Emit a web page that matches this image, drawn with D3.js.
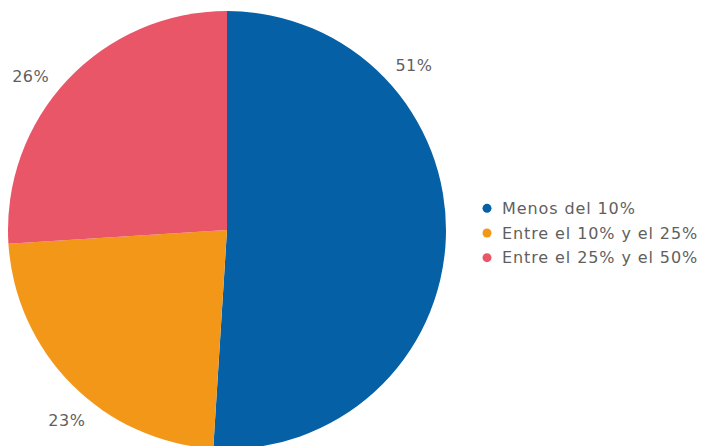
<!DOCTYPE html>
<meta charset="utf-8">
<style>
  body { margin: 0; background: #fff; }
  .label, .legend text {
    font-family: "DejaVu Sans", sans-serif;
    font-size: 16px;
    fill: #5f5f5f;
  }
  .legend text { letter-spacing: 0.9px; }
  .label { letter-spacing: 0.5px; }
</style>
<body>
<div id="chart"></div>
<script src="https://d3js.org/d3.v7.min.js"></script>
<script>

  // chart values
  var categories = ["Menos del 10%", "Entre el 10% y el 25%", "Entre el 25% y el 50%"];
  var values = [51, 23, 26];
  var labels = ["51%", "23%", "26%"];
  var colors = ["#0560A6", "#F39719", "#E85668"];

  var width = 701, height = 446,
      cx = 227, cy = 230,
      radius = 219,
      labelRadius = 249;

  var svg = d3.select("#chart")
      .append("svg")
      .attr("width", width)
      .attr("height", height);

  var g = svg.append("g")
      .attr("transform", "translate(" + cx + "," + cy + ")");

  var pie = d3.pie().sort(null).value(function (d) { return d; });
  var arcs = pie(values);

  var arc = d3.arc().innerRadius(0).outerRadius(radius);

  g.selectAll("path")
      .data(arcs)
      .enter().append("path")
      .attr("d", arc)
      .attr("fill", function (d, i) { return colors[i]; });

  // labels sit outside the pie, not quite at the slice middles
  var labelPos = [0.265, 0.44, 0.444];
  function labelAngle(d, i) {
    return d.startAngle + (d.endAngle - d.startAngle) * labelPos[i];
  }

  g.selectAll(".label")
      .data(arcs)
      .enter().append("text")
      .attr("class", "label")
      .attr("x", function (d, i) { return labelRadius * Math.sin(labelAngle(d, i)); })
      .attr("y", function (d, i) { return -labelRadius * Math.cos(labelAngle(d, i)); })
      .attr("text-anchor", "middle")
      .attr("dominant-baseline", "central")
      .text(function (d, i) { return labels[i]; });

  // legend
  var legendY = d3.scaleBand()
      .domain(categories)
      .range([196, 270]);

  var legend = svg.append("g").attr("class", "legend")
      .selectAll("g")
      .data(categories)
      .enter().append("g")
      .attr("transform", function (d) {
        return "translate(487," + (legendY(d) + legendY.bandwidth() / 2) + ")";
      });

  legend.append("circle")
      .attr("r", 4.5)
      .attr("fill", function (d, i) { return colors[i]; });

  legend.append("text")
      .attr("x", 15)
      .attr("dominant-baseline", "central")
      .text(function (d) { return d; });

</script>
</body>
